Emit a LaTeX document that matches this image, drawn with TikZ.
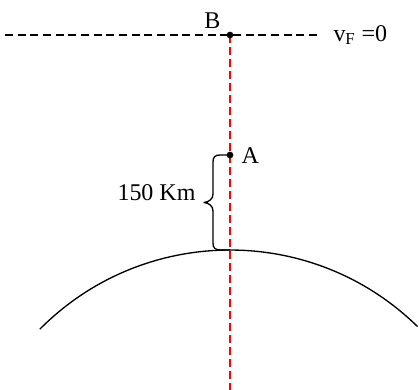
\documentclass[tikz,border=0pt]{standalone}
\usepackage{fontspec}
\setmainfont{Liberation Serif}
\usetikzlibrary{backgrounds}

\tikzset{every picture/.style={line width=0.75pt}}
\tikzset{
	dotpt/.style={circle,fill=black,inner sep=0pt,minimum size=5pt},
	lbl/.style={inner sep=0.75pt,font=\fontsize{18}{21}\selectfont},
	axisdash/.style={line width=1pt,dash pattern={on 6pt off 3.5pt}},
	reddash/.style={draw=red,line width=1.5pt,dash pattern={on 6pt off 3pt}}
}

\begin{document}
\begin{tikzpicture}[x=0.75pt,y=0.75pt,yscale=-1,xscale=1]
	\useasboundingbox (0,0) rectangle (419,390);
	
	% Points
	\node [dotpt] (B) at (230,35) {};
	\node [dotpt] (A) at (230,155) {};
	\coordinate (S) at (230,250);
	\coordinate (O) at (230,518);
	\coordinate (L) at (5,35);
	\coordinate (R) at (318,35);
	\coordinate (E) at (230,390);
	
	\begin{scope}[on background layer]
	%Straight Lines
	\draw [axisdash] (L) -- (R) ;
	%Straight Lines
	\draw [reddash] (B.center) -- (E) ;
	\end{scope}
	
	%Shape: Arc
	\draw [line width=1pt] (O) ++(-135.2:268) arc [start angle=-135.2, end angle=-45.6, radius=268] ;
	
	%Shape: Brace
	\draw [line width=1pt,line join=round] (A.center) -- (220,155) .. controls (215,155) and (213,157) .. (213,162) -- (213,194) .. controls (213,199) and (209,202) .. (204,202.5) .. controls (209,203) and (213,206) .. (213,211) -- (213,243) .. controls (213,248) and (215,250) .. (221,250) -- (S) ;
	
	% Text Node
	\node [lbl,anchor=base east] (lB) at (222,28) {B};
	% Text Node
	\node [lbl,anchor=base west] (lA) at (240,163) {A};
	% Text Node
	\node [lbl,anchor=base east] (h) at (197,200) {150 Km};
	% Text Node
	\node [lbl,anchor=base west] (vF) at (332,41) {v\textsubscript{F} =0};
	
\end{tikzpicture}
\end{document}
